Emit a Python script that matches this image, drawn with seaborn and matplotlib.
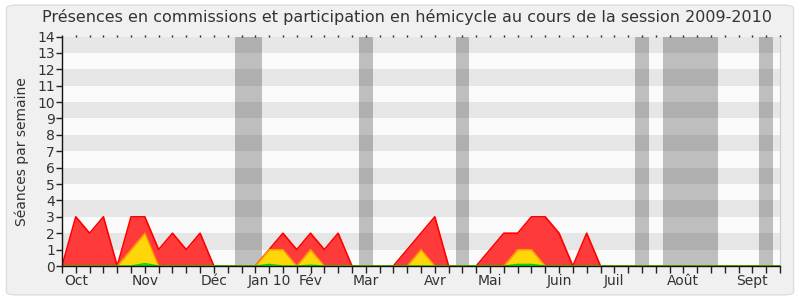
import matplotlib
matplotlib.use("Agg")
import matplotlib.pyplot as plt
from matplotlib.patches import FancyBboxPatch
import numpy as np
import pandas as pd
import seaborn as sns

# ---- data -------------------------------------------------------------
weeks = list(range(53))
red_values = [0, 3, 2, 3, 0, 3, 3, 1, 2, 1, 2, 0, 0, 0, 0, 1, 2, 1, 2, 1, 2, 0,
              0, 0, 0, 1, 2, 3, 0, 0, 0, 1, 2, 2, 3, 3, 2, 0, 2, 0,
              0, 0, 0, 0, 0, 0, 0, 0, 0, 0, 0, 0, 0]
yellow_values = [0, 0, 0, 0, 0, 1, 2, 0, 0, 0, 0, 0, 0, 0, 0, 1, 1, 0, 1, 0, 0, 0,
                 0, 0, 0, 0, 1, 0, 0, 0, 0, 0, 0, 1, 1, 0, 0, 0, 0, 0,
                 0, 0, 0, 0, 0, 0, 0, 0, 0, 0, 0, 0, 0]
green_values = [0, 0, 0, 0, 0, 0, 0.15, 0, 0, 0, 0, 0, 0, 0, 0, 0.1, 0, 0, 0.05, 0, 0, 0,
                0, 0, 0, 0, 0, 0, 0, 0, 0, 0, 0, 0.1, 0.1, 0, 0, 0, 0, 0,
                0, 0, 0, 0, 0, 0, 0, 0, 0, 0, 0, 0, 0]
vacation_start = [12.5, 21.5, 28.5, 41.5, 43.5, 50.5]
vacation_end = [14.5, 22.5, 29.5, 42.5, 47.5, 51.5]
month_labels = ["Oct", "Nov", "Déc", "Jan 10", "Fév", "Mar", "Avr", "Mai",
                "Juin", "Juil", "Août", "Sept"]
month_positions = [1, 6, 11, 15, 18, 22, 27, 31, 36, 40, 45, 50]
y_ticks = list(range(15))

df = pd.DataFrame({"week": weeks, "red": red_values,
                   "yellow": yellow_values, "green": green_values})

# ---- figure -----------------------------------------------------------
sns.set_style("white")
plt.rcParams["font.family"] = ["DejaVu Sans"]

fig = plt.figure(figsize=(8, 3), dpi=100)
fig.patch.set_facecolor("white")
bg = FancyBboxPatch((0.008, 0.017), 0.984, 0.966,
                    boxstyle="round,pad=0,rounding_size=0.012",
                    transform=fig.transFigure, facecolor="#f0f0f0",
                    edgecolor="#dedede", linewidth=1.0, zorder=-10)
fig.patches.append(bg)

ax = fig.add_axes([0.0775, 0.1133, 0.8975, 0.765])
ax.set_facecolor("#fafafa")

# horizontal stripes
for k in range(1, 14, 2):
    ax.axhspan(k, k + 1, color="#e6e6e6", zorder=0, lw=0)

# vacation bands
for s, e in zip(vacation_start, vacation_end):
    ax.axvspan(s, e, color="black", alpha=0.24, zorder=1, lw=0)

# filled areas
ax.fill_between(df["week"], 0, df["red"], color="#ff3a3a", zorder=2, lw=0)
sns.lineplot(data=df, x="week", y="red", ax=ax, color="#ff0000", lw=1.2, zorder=3)
ax.fill_between(df["week"], 0, df["yellow"], color="#ffd60a", zorder=4, lw=0)
sns.lineplot(data=df, x="week", y="yellow", ax=ax, color="#ff9900", lw=1.0, zorder=5)
ax.fill_between(df["week"], 0, df["green"], color="#22cc22", zorder=6, lw=0)
sns.lineplot(data=df, x="week", y="green", ax=ax, color="#00dd00", lw=1.0, zorder=7)

ax.set_xlim(0, 52)
ax.set_ylim(0, 14)

ax.set_yticks(y_ticks)
ax.set_yticklabels([str(v) for v in y_ticks], fontsize=10, color="#333333")
ax.xaxis.remove_overlapping_locs = False
ax.set_xticks(weeks)
ax.set_xticklabels([""] * len(weeks))
ax.set_xticks(month_positions, minor=True)
ax.set_xticklabels(month_labels, minor=True, fontsize=10, color="#333333")

ax.tick_params(axis="x", which="major", direction="out", length=5, width=1,
               color="#222222", bottom=True, top=False)
ax.tick_params(axis="x", which="minor", length=0, pad=6, bottom=True, top=False)
ax.tick_params(axis="y", direction="out", length=4, width=1, color="#222222",
               pad=1, left=True)

# small dots along the top edge, one per week
secax = ax.secondary_xaxis("top")
secax.set_xticks(weeks)
secax.tick_params(axis="x", direction="out", length=1.5, width=1,
                  color="#222222", labeltop=False)
secax.spines["top"].set_visible(False)

for side in ["left", "bottom"]:
    ax.spines[side].set_color("#111111")
    ax.spines[side].set_linewidth(1.0)
    ax.spines[side].set_zorder(10)
ax.spines["top"].set_visible(False)
ax.spines["right"].set_color("#cccccc")

ax.set_xlabel("")
ax.set_ylabel("Séances par semaine", fontsize=10, color="#333333", labelpad=6)
fig.text(0.509, 0.943,
         "Présences en commissions et participation en hémicycle au cours de la session 2009-2010",
         ha="center", va="center", fontsize=11.5, color="#333333")

fig.savefig("out.png", dpi=100, facecolor=fig.get_facecolor())
